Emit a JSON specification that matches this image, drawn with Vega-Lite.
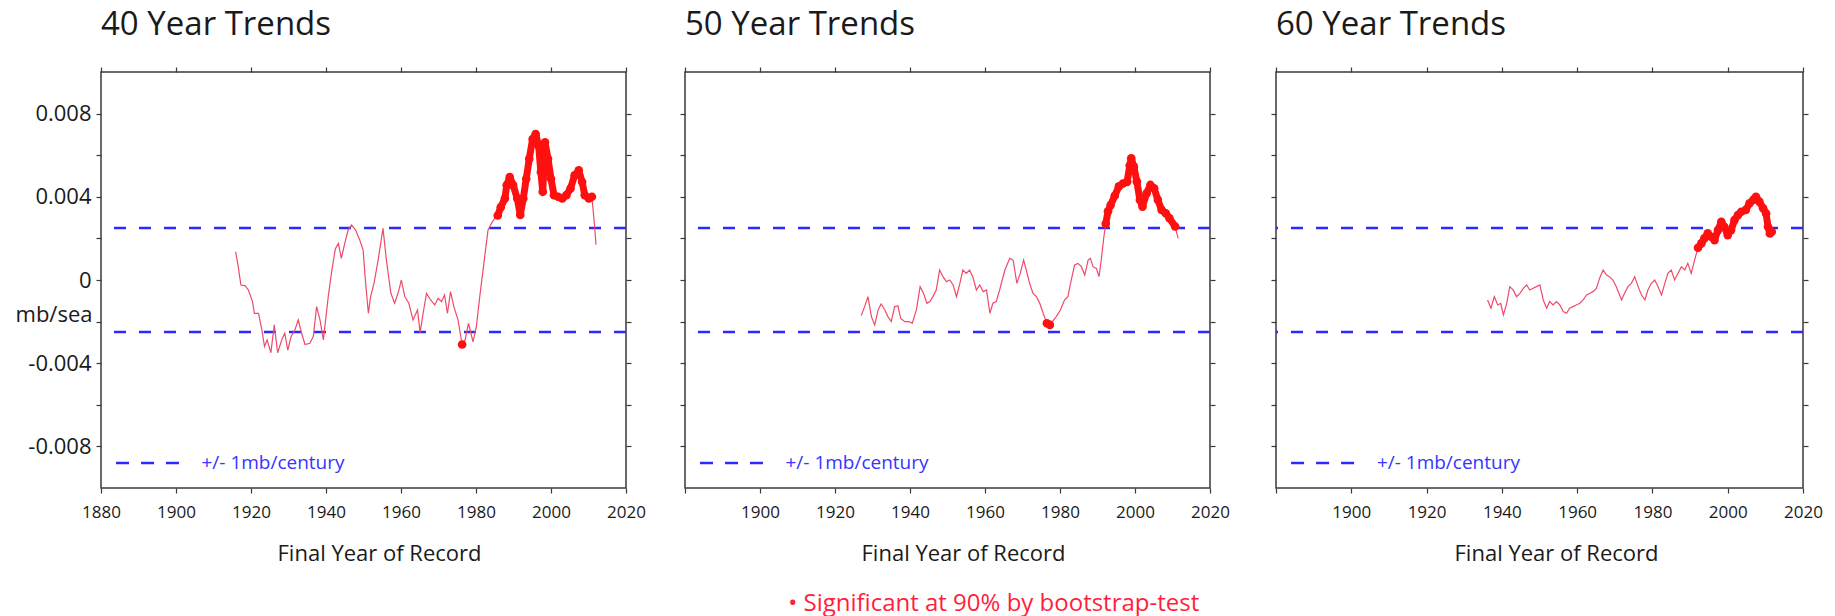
{
  "$schema": "https://vega.github.io/schema/vega-lite/v6.json",
  "background": "white",
  "padding": {"left": 14, "top": 8, "right": 5, "bottom": 4},
  "config": {
    "font": "Open Sans",
    "view": {"stroke": "#3a3a3a", "strokeWidth": 1.5},
    "axis": {"domain": false, "grid": false, "tickColor": "#3a3a3a", "tickSize": 5, "tickWidth": 1.2, "labelColor": "#1a1a1a", "titleColor": "#1a1a1a", "titleFontWeight": "normal", "labelFlush": false},
    "title": {"fontSize": 33, "fontWeight": "normal", "anchor": "start", "frame": "group", "color": "#1a1a1a", "offset": 24}
  },
  "title": {"text": "• Significant at 90% by bootstrap-test", "orient": "bottom", "anchor": "middle", "frame": "bounds", "fontSize": 24, "color": "#ff1f3d", "dx": 75, "offset": 27},
  "datasets": {
    "d40": [
      {"year":1915.9,"trend":0.00136,"sig":"n"},{"year":1916.6,"trend":0.00064,"sig":"n"},{"year":1917.3,"trend":-0.00024,"sig":"n"},{"year":1918.4,"trend":-0.00027,"sig":"n"},{"year":1919.3,"trend":-0.00048,"sig":"n"},{"year":1920.4,"trend":-0.00104,"sig":"n"},{"year":1920.9,"trend":-0.0016,"sig":"n"},{"year":1922.0,"trend":-0.0016,"sig":"n"},{"year":1922.9,"trend":-0.0024,"sig":"n"},{"year":1923.6,"trend":-0.0032,"sig":"n"},{"year":1924.3,"trend":-0.00288,"sig":"n"},{"year":1925.3,"trend":-0.0035,"sig":"n"},{"year":1926.2,"trend":-0.00216,"sig":"n"},{"year":1927.1,"trend":-0.0035,"sig":"n"},{"year":1928.2,"trend":-0.00288,"sig":"n"},{"year":1929.0,"trend":-0.00256,"sig":"n"},{"year":1929.8,"trend":-0.00337,"sig":"n"},{"year":1930.7,"trend":-0.00272,"sig":"n"},{"year":1931.7,"trend":-0.0024,"sig":"n"},{"year":1932.6,"trend":-0.00192,"sig":"n"},{"year":1933.5,"trend":-0.00256,"sig":"n"},{"year":1934.4,"trend":-0.0031,"sig":"n"},{"year":1935.7,"trend":-0.00304,"sig":"n"},{"year":1936.6,"trend":-0.00272,"sig":"n"},{"year":1937.5,"trend":-0.00128,"sig":"n"},{"year":1938.4,"trend":-0.00192,"sig":"n"},{"year":1939.3,"trend":-0.00288,"sig":"n"},{"year":1939.9,"trend":-0.00192,"sig":"n"},{"year":1940.6,"trend":-0.0008,"sig":"n"},{"year":1941.5,"trend":0.0004,"sig":"n"},{"year":1942.5,"trend":0.0015,"sig":"n"},{"year":1943.3,"trend":0.00176,"sig":"n"},{"year":1944.1,"trend":0.00104,"sig":"n"},{"year":1945.0,"trend":0.00176,"sig":"n"},{"year":1945.9,"trend":0.0024,"sig":"n"},{"year":1946.8,"trend":0.00264,"sig":"n"},{"year":1947.9,"trend":0.0024,"sig":"n"},{"year":1949.0,"trend":0.00192,"sig":"n"},{"year":1949.9,"trend":0.00144,"sig":"n"},{"year":1950.5,"trend":0.0,"sig":"n"},{"year":1951.3,"trend":-0.0016,"sig":"n"},{"year":1951.9,"trend":-0.0008,"sig":"n"},{"year":1952.8,"trend":-0.00016,"sig":"n"},{"year":1953.9,"trend":0.00096,"sig":"n"},{"year":1955.2,"trend":0.00248,"sig":"n"},{"year":1956.1,"trend":0.00096,"sig":"n"},{"year":1957.3,"trend":-0.00064,"sig":"n"},{"year":1958.3,"trend":-0.00112,"sig":"n"},{"year":1959.2,"trend":-0.00064,"sig":"n"},{"year":1960.1,"trend":0.0,"sig":"n"},{"year":1961.0,"trend":-0.0008,"sig":"n"},{"year":1962.1,"trend":-0.00112,"sig":"n"},{"year":1963.2,"trend":-0.00192,"sig":"n"},{"year":1964.4,"trend":-0.00144,"sig":"n"},{"year":1965.1,"trend":-0.00253,"sig":"n"},{"year":1965.9,"trend":-0.0016,"sig":"n"},{"year":1966.8,"trend":-0.00064,"sig":"n"},{"year":1967.9,"trend":-0.00096,"sig":"n"},{"year":1969.0,"trend":-0.0012,"sig":"n"},{"year":1969.9,"trend":-0.00088,"sig":"n"},{"year":1970.8,"trend":-0.00104,"sig":"n"},{"year":1971.6,"trend":-0.00072,"sig":"n"},{"year":1972.4,"trend":-0.0016,"sig":"n"},{"year":1973.2,"trend":-0.00056,"sig":"n"},{"year":1974.1,"trend":-0.00128,"sig":"n"},{"year":1975.2,"trend":-0.00192,"sig":"n"},{"year":1976.3,"trend":-0.0031,"sig":"a"},{"year":1977.1,"trend":-0.00288,"sig":"n"},{"year":1978.0,"trend":-0.00208,"sig":"n"},{"year":1979.2,"trend":-0.00297,"sig":"n"},{"year":1980.1,"trend":-0.00224,"sig":"n"},{"year":1981.0,"trend":-0.0008,"sig":"n"},{"year":1982.1,"trend":0.0008,"sig":"n"},{"year":1983.2,"trend":0.0024,"sig":"n"},{"year":1984.1,"trend":0.00272,"sig":"n"},{"year":1985.0,"trend":0.00297,"sig":"n"},{"year":1985.8,"trend":0.0031,"sig":"b"},{"year":1986.6,"trend":0.0035,"sig":"b"},{"year":1987.7,"trend":0.00392,"sig":"b"},{"year":1988.2,"trend":0.00456,"sig":"b"},{"year":1989.0,"trend":0.00495,"sig":"b"},{"year":1989.9,"trend":0.00456,"sig":"b"},{"year":1991.0,"trend":0.00392,"sig":"b"},{"year":1991.8,"trend":0.00313,"sig":"b"},{"year":1992.6,"trend":0.00392,"sig":"b"},{"year":1993.4,"trend":0.00487,"sig":"b"},{"year":1994.2,"trend":0.00583,"sig":"b"},{"year":1995.1,"trend":0.00678,"sig":"b"},{"year":1995.9,"trend":0.00702,"sig":"b"},{"year":1996.7,"trend":0.00646,"sig":"b"},{"year":1997.3,"trend":0.00519,"sig":"b"},{"year":1997.8,"trend":0.00424,"sig":"b"},{"year":1998.4,"trend":0.00662,"sig":"b"},{"year":1999.2,"trend":0.00583,"sig":"b"},{"year":2000.0,"trend":0.00487,"sig":"b"},{"year":2000.8,"trend":0.00408,"sig":"b"},{"year":2001.9,"trend":0.004,"sig":"b"},{"year":2003.0,"trend":0.00392,"sig":"b"},{"year":2004.1,"trend":0.00408,"sig":"b"},{"year":2005.2,"trend":0.0044,"sig":"b"},{"year":2006.3,"trend":0.00503,"sig":"b"},{"year":2007.4,"trend":0.00527,"sig":"b"},{"year":2008.3,"trend":0.00471,"sig":"b"},{"year":2009.0,"trend":0.00408,"sig":"b"},{"year":2010.1,"trend":0.00392,"sig":"b"},{"year":2010.9,"trend":0.004,"sig":"b"},{"year":2011.6,"trend":0.00265,"sig":"n"},{"year":2012.0,"trend":0.0017,"sig":"n"}
    ],
    "d50": [
      {"year":1927.0,"trend":-0.00171,"sig":"n"},{"year":1927.9,"trend":-0.00128,"sig":"n"},{"year":1928.8,"trend":-0.0008,"sig":"n"},{"year":1929.7,"trend":-0.00176,"sig":"n"},{"year":1930.6,"trend":-0.00216,"sig":"n"},{"year":1931.5,"trend":-0.00144,"sig":"n"},{"year":1932.3,"trend":-0.00115,"sig":"n"},{"year":1933.3,"trend":-0.00144,"sig":"n"},{"year":1934.1,"trend":-0.00176,"sig":"n"},{"year":1935.0,"trend":-0.002,"sig":"n"},{"year":1935.9,"trend":-0.00128,"sig":"n"},{"year":1936.8,"trend":-0.00125,"sig":"n"},{"year":1937.5,"trend":-0.00184,"sig":"n"},{"year":1938.6,"trend":-0.002,"sig":"n"},{"year":1939.7,"trend":-0.002,"sig":"n"},{"year":1940.6,"trend":-0.00208,"sig":"n"},{"year":1941.7,"trend":-0.00144,"sig":"n"},{"year":1942.7,"trend":-0.00032,"sig":"n"},{"year":1943.6,"trend":-0.00064,"sig":"n"},{"year":1944.5,"trend":-0.00112,"sig":"n"},{"year":1945.3,"trend":-0.00104,"sig":"n"},{"year":1946.1,"trend":-0.0008,"sig":"n"},{"year":1947.0,"trend":-0.00048,"sig":"n"},{"year":1947.9,"trend":0.00048,"sig":"n"},{"year":1948.8,"trend":0.00016,"sig":"n"},{"year":1949.7,"trend":-0.00008,"sig":"n"},{"year":1950.6,"trend":0.0,"sig":"n"},{"year":1951.5,"trend":-0.00024,"sig":"n"},{"year":1952.4,"trend":-0.0008,"sig":"n"},{"year":1953.3,"trend":-0.00016,"sig":"n"},{"year":1954.1,"trend":0.00048,"sig":"n"},{"year":1955.0,"trend":0.00032,"sig":"n"},{"year":1955.9,"trend":0.00048,"sig":"n"},{"year":1956.8,"trend":0.00012,"sig":"n"},{"year":1957.7,"trend":-0.00048,"sig":"n"},{"year":1958.6,"trend":-0.00024,"sig":"n"},{"year":1959.5,"trend":-0.00056,"sig":"n"},{"year":1960.4,"trend":-0.00048,"sig":"n"},{"year":1961.3,"trend":-0.0016,"sig":"n"},{"year":1962.1,"trend":-0.00112,"sig":"n"},{"year":1963.0,"trend":-0.00104,"sig":"n"},{"year":1963.9,"trend":-0.00048,"sig":"n"},{"year":1965.3,"trend":0.00048,"sig":"n"},{"year":1966.6,"trend":0.00104,"sig":"n"},{"year":1967.5,"trend":0.00096,"sig":"n"},{"year":1968.5,"trend":-0.00016,"sig":"n"},{"year":1969.4,"trend":0.00032,"sig":"n"},{"year":1970.3,"trend":0.00096,"sig":"n"},{"year":1971.0,"trend":0.00048,"sig":"n"},{"year":1971.9,"trend":-0.00016,"sig":"n"},{"year":1972.8,"trend":-0.00064,"sig":"n"},{"year":1973.7,"trend":-0.0008,"sig":"n"},{"year":1974.6,"trend":-0.00112,"sig":"n"},{"year":1975.5,"trend":-0.0016,"sig":"n"},{"year":1976.5,"trend":-0.00208,"sig":"a"},{"year":1977.3,"trend":-0.00216,"sig":"a"},{"year":1979.0,"trend":-0.00176,"sig":"n"},{"year":1980.1,"trend":-0.00144,"sig":"n"},{"year":1981.2,"trend":-0.00096,"sig":"n"},{"year":1982.1,"trend":-0.0008,"sig":"n"},{"year":1983.0,"trend":0.0,"sig":"n"},{"year":1983.9,"trend":0.00072,"sig":"n"},{"year":1984.8,"trend":0.0008,"sig":"n"},{"year":1985.7,"trend":0.00064,"sig":"n"},{"year":1986.6,"trend":0.00024,"sig":"n"},{"year":1987.5,"trend":0.00096,"sig":"n"},{"year":1988.1,"trend":0.00104,"sig":"n"},{"year":1988.8,"trend":0.00064,"sig":"n"},{"year":1989.7,"trend":0.00056,"sig":"n"},{"year":1990.4,"trend":0.00016,"sig":"n"},{"year":1991.0,"trend":0.00096,"sig":"n"},{"year":1991.7,"trend":0.00208,"sig":"n"},{"year":1992.2,"trend":0.0027,"sig":"b"},{"year":1992.8,"trend":0.0033,"sig":"b"},{"year":1993.5,"trend":0.0036,"sig":"b"},{"year":1994.6,"trend":0.00405,"sig":"b"},{"year":1995.7,"trend":0.0045,"sig":"b"},{"year":1996.8,"trend":0.00464,"sig":"b"},{"year":1997.9,"trend":0.00472,"sig":"b"},{"year":1998.6,"trend":0.0055,"sig":"b"},{"year":1999.0,"trend":0.00585,"sig":"b"},{"year":1999.7,"trend":0.00545,"sig":"b"},{"year":2000.5,"trend":0.00473,"sig":"b"},{"year":2001.3,"trend":0.00385,"sig":"b"},{"year":2002.0,"trend":0.00353,"sig":"b"},{"year":2003.1,"trend":0.00417,"sig":"b"},{"year":2004.1,"trend":0.00457,"sig":"b"},{"year":2005.1,"trend":0.00441,"sig":"b"},{"year":2006.1,"trend":0.00385,"sig":"b"},{"year":2007.1,"trend":0.00337,"sig":"b"},{"year":2008.2,"trend":0.00321,"sig":"b"},{"year":2009.2,"trend":0.00297,"sig":"b"},{"year":2010.7,"trend":0.00257,"sig":"b"},{"year":2011.5,"trend":0.002,"sig":"n"}
    ],
    "d60": [
      {"year":1936.2,"trend":-0.00096,"sig":"n"},{"year":1937.1,"trend":-0.00136,"sig":"n"},{"year":1938.0,"trend":-0.0008,"sig":"n"},{"year":1938.9,"trend":-0.0012,"sig":"n"},{"year":1939.7,"trend":-0.00112,"sig":"n"},{"year":1940.4,"trend":-0.00168,"sig":"n"},{"year":1941.3,"trend":-0.00112,"sig":"n"},{"year":1942.1,"trend":-0.00032,"sig":"n"},{"year":1943.0,"trend":-0.00048,"sig":"n"},{"year":1943.9,"trend":-0.0008,"sig":"n"},{"year":1944.8,"trend":-0.00064,"sig":"n"},{"year":1945.7,"trend":-0.0004,"sig":"n"},{"year":1946.6,"trend":-0.00024,"sig":"n"},{"year":1947.4,"trend":-0.00048,"sig":"n"},{"year":1948.3,"trend":-0.0004,"sig":"n"},{"year":1949.2,"trend":-0.00032,"sig":"n"},{"year":1950.1,"trend":-0.00024,"sig":"n"},{"year":1951.0,"trend":-0.00096,"sig":"n"},{"year":1951.9,"trend":-0.00136,"sig":"n"},{"year":1952.7,"trend":-0.00104,"sig":"n"},{"year":1953.6,"trend":-0.0012,"sig":"n"},{"year":1954.5,"trend":-0.00104,"sig":"n"},{"year":1955.4,"trend":-0.0012,"sig":"n"},{"year":1956.3,"trend":-0.00152,"sig":"n"},{"year":1957.2,"trend":-0.0016,"sig":"n"},{"year":1958.0,"trend":-0.00136,"sig":"n"},{"year":1958.9,"trend":-0.00128,"sig":"n"},{"year":1959.8,"trend":-0.0012,"sig":"n"},{"year":1960.7,"trend":-0.00112,"sig":"n"},{"year":1961.6,"trend":-0.00096,"sig":"n"},{"year":1962.5,"trend":-0.00072,"sig":"n"},{"year":1963.4,"trend":-0.00064,"sig":"n"},{"year":1964.2,"trend":-0.00056,"sig":"n"},{"year":1965.1,"trend":-0.0004,"sig":"n"},{"year":1966.0,"trend":0.0001,"sig":"n"},{"year":1966.9,"trend":0.00048,"sig":"n"},{"year":1967.8,"trend":0.00024,"sig":"n"},{"year":1968.6,"trend":0.00016,"sig":"n"},{"year":1969.5,"trend":0.0,"sig":"n"},{"year":1970.4,"trend":-0.00032,"sig":"n"},{"year":1971.8,"trend":-0.00096,"sig":"n"},{"year":1972.6,"trend":-0.00064,"sig":"n"},{"year":1973.5,"trend":-0.00032,"sig":"n"},{"year":1974.4,"trend":-0.00016,"sig":"n"},{"year":1975.3,"trend":0.00016,"sig":"n"},{"year":1976.2,"trend":-0.00032,"sig":"n"},{"year":1977.1,"trend":-0.00072,"sig":"n"},{"year":1978.0,"trend":-0.00096,"sig":"n"},{"year":1978.8,"trend":-0.00048,"sig":"n"},{"year":1979.7,"trend":-0.00016,"sig":"n"},{"year":1980.6,"trend":0.0,"sig":"n"},{"year":1981.5,"trend":-0.00032,"sig":"n"},{"year":1982.4,"trend":-0.00072,"sig":"n"},{"year":1983.3,"trend":-0.00016,"sig":"n"},{"year":1984.1,"trend":0.00032,"sig":"n"},{"year":1985.0,"trend":0.00048,"sig":"n"},{"year":1985.9,"trend":0.0,"sig":"n"},{"year":1986.8,"trend":0.00032,"sig":"n"},{"year":1987.7,"trend":0.00064,"sig":"n"},{"year":1988.6,"trend":0.00048,"sig":"n"},{"year":1989.4,"trend":0.0008,"sig":"n"},{"year":1990.3,"trend":0.00032,"sig":"n"},{"year":1991.2,"trend":0.00096,"sig":"n"},{"year":1992.1,"trend":0.00155,"sig":"b"},{"year":1993.0,"trend":0.00176,"sig":"b"},{"year":1993.8,"trend":0.002,"sig":"b"},{"year":1994.7,"trend":0.00224,"sig":"b"},{"year":1995.6,"trend":0.00208,"sig":"b"},{"year":1996.5,"trend":0.00192,"sig":"b"},{"year":1997.4,"trend":0.0024,"sig":"b"},{"year":1998.3,"trend":0.0028,"sig":"b"},{"year":1999.1,"trend":0.00256,"sig":"b"},{"year":2000.0,"trend":0.00216,"sig":"b"},{"year":2000.9,"trend":0.0024,"sig":"b"},{"year":2001.8,"trend":0.00288,"sig":"b"},{"year":2002.7,"trend":0.00312,"sig":"b"},{"year":2003.6,"trend":0.00328,"sig":"b"},{"year":2004.8,"trend":0.00337,"sig":"b"},{"year":2005.8,"trend":0.00369,"sig":"b"},{"year":2006.8,"trend":0.00385,"sig":"b"},{"year":2007.5,"trend":0.004,"sig":"b"},{"year":2008.4,"trend":0.00377,"sig":"b"},{"year":2009.4,"trend":0.00345,"sig":"b"},{"year":2010.2,"trend":0.0032,"sig":"b"},{"year":2010.7,"trend":0.00256,"sig":"b"},{"year":2011.2,"trend":0.00224,"sig":"b"},{"year":2011.7,"trend":0.00232,"sig":"b"}
    ]
  },
  "bounds": "flush",
  "spacing": 59,
  "hconcat": [
    {
      "title": "40 Year Trends",
      "width": 525, "height": 416,
      "data": {"name": "d40"},
      "resolve": {"axis": {"x": "independent", "y": "independent"}},
      "layer": [
        {"data": {"values": [{"thr": 0.0025}, {"thr": -0.0025}]}, "mark": {"type": "rule", "color": "#2a2aff", "strokeWidth": 2.5, "strokeDash": [12, 13]}, "encoding": {"y": {"field": "thr", "type": "quantitative", "scale": {"domain": [-0.01, 0.01], "nice": false}, "axis": null}}},
        {"mark": {"type": "line", "color": "#f04a6a", "strokeWidth": 1.2}, "encoding": {
          "x": {"field": "year", "type": "quantitative", "scale": {"domain": [1880, 2020], "nice": false, "zero": false}, "axis": {"orient": "bottom", "values": [1880,1900,1920,1940,1960,1980,2000,2020], "format": "d", "labelFontSize": 17, "labelPadding": 11, "title": "Final Year of Record", "titleFontSize": 22, "titlePadding": 23, "titleX": 278}},
          "y": {"field": "trend", "type": "quantitative", "scale": {"domain": [-0.01, 0.01], "nice": false}, "axis": {"orient": "left", "values": [-0.008,-0.006,-0.004,-0.002,0,0.002,0.004,0.006,0.008], "labelExpr": "abs(round(datum.value*1000)) % 4 == 0 ? (datum.value < 0 ? '-' : '') + format(abs(datum.value), '.3~f') : ''", "labelFontSize": 22, "labelPadding": 5, "title": "mb/sea", "titleFontSize": 22, "titleAngle": 0, "titleAlign": "right", "titleBaseline": "middle", "titleX": -9, "titleY": 242}}}},
        {"transform": [{"filter": "datum.sig != 'n'"}], "mark": {"type": "line", "color": "#ff1010", "strokeWidth": 7, "strokeCap": "round", "strokeJoin": "round"}, "encoding": {"x": {"field": "year", "type": "quantitative", "axis": null}, "y": {"field": "trend", "type": "quantitative", "axis": null}, "detail": {"field": "sig"}}},
        {"transform": [{"filter": "datum.sig != 'n'"}], "mark": {"type": "circle", "color": "#ff1010", "size": 75, "opacity": 1}, "encoding": {
          "x": {"field": "year", "type": "quantitative", "axis": {"orient": "top", "labels": false, "title": null, "values": [1880,1900,1920,1940,1960,1980,2000,2020]}},
          "y": {"field": "trend", "type": "quantitative", "axis": {"orient": "right", "labels": false, "title": null, "values": [-0.008,-0.006,-0.004,-0.002,0,0.002,0.004,0.006,0.008]}}}},
        {"data": {"values": [{}]}, "mark": {"type": "rule", "color": "#2a2aff", "strokeWidth": 2.5, "strokeDash": [13, 12]}, "encoding": {"x": {"datum": 1884, "type": "quantitative", "axis": null}, "x2": {"datum": 1902}, "y": {"datum": -0.0088, "type": "quantitative", "axis": null}}},
        {"data": {"values": [{}]}, "mark": {"type": "text", "text": "+/- 1mb/century", "align": "left", "baseline": "middle", "fontSize": 19, "color": "#3535ff"}, "encoding": {"x": {"datum": 1906.8, "type": "quantitative", "axis": null}, "y": {"datum": -0.0088, "type": "quantitative", "axis": null}}}
      ]
    },
    {
      "bounds": "flush",
      "spacing": 66,
      "hconcat": [
        {
          "title": "50 Year Trends",
          "width": 525, "height": 416,
          "data": {"name": "d50"},
          "resolve": {"axis": {"x": "independent", "y": "independent"}},
          "layer": [
            {"data": {"values": [{"thr": 0.0025}, {"thr": -0.0025}]}, "mark": {"type": "rule", "color": "#2a2aff", "strokeWidth": 2.5, "strokeDash": [12, 13]}, "encoding": {"y": {"field": "thr", "type": "quantitative", "scale": {"domain": [-0.01, 0.01], "nice": false}, "axis": null}}},
            {"mark": {"type": "line", "color": "#f04a6a", "strokeWidth": 1.2}, "encoding": {
              "x": {"field": "year", "type": "quantitative", "scale": {"domain": [1880, 2020], "nice": false, "zero": false}, "axis": {"orient": "bottom", "values": [1880,1900,1920,1940,1960,1980,2000,2020], "format": "d", "labelExpr": "datum.value == 1880 ? '' : datum.label", "labelFontSize": 17, "labelPadding": 11, "title": "Final Year of Record", "titleFontSize": 22, "titlePadding": 23, "titleX": 278}},
              "y": {"field": "trend", "type": "quantitative", "scale": {"domain": [-0.01, 0.01], "nice": false}, "axis": {"orient": "left", "values": [-0.008,-0.006,-0.004,-0.002,0,0.002,0.004,0.006,0.008], "labels": false, "title": null}}}},
            {"transform": [{"filter": "datum.sig != 'n'"}], "mark": {"type": "line", "color": "#ff1010", "strokeWidth": 7, "strokeCap": "round", "strokeJoin": "round"}, "encoding": {"x": {"field": "year", "type": "quantitative", "axis": null}, "y": {"field": "trend", "type": "quantitative", "axis": null}, "detail": {"field": "sig"}}},
            {"transform": [{"filter": "datum.sig != 'n'"}], "mark": {"type": "circle", "color": "#ff1010", "size": 75, "opacity": 1}, "encoding": {
              "x": {"field": "year", "type": "quantitative", "axis": {"orient": "top", "labels": false, "title": null, "values": [1880,1900,1920,1940,1960,1980,2000,2020]}},
              "y": {"field": "trend", "type": "quantitative", "axis": {"orient": "right", "labels": false, "title": null, "values": [-0.008,-0.006,-0.004,-0.002,0,0.002,0.004,0.006,0.008]}}}},
            {"data": {"values": [{}]}, "mark": {"type": "rule", "color": "#2a2aff", "strokeWidth": 2.5, "strokeDash": [13, 12]}, "encoding": {"x": {"datum": 1884, "type": "quantitative", "axis": null}, "x2": {"datum": 1902}, "y": {"datum": -0.0088, "type": "quantitative", "axis": null}}},
            {"data": {"values": [{}]}, "mark": {"type": "text", "text": "+/- 1mb/century", "align": "left", "baseline": "middle", "fontSize": 19, "color": "#3535ff"}, "encoding": {"x": {"datum": 1906.8, "type": "quantitative", "axis": null}, "y": {"datum": -0.0088, "type": "quantitative", "axis": null}}}
          ]
        },
        {
          "title": "60 Year Trends",
          "width": 527, "height": 416,
          "data": {"name": "d60"},
          "resolve": {"axis": {"x": "independent", "y": "independent"}},
          "layer": [
            {"data": {"values": [{"thr": 0.0025}, {"thr": -0.0025}]}, "mark": {"type": "rule", "color": "#2a2aff", "strokeWidth": 2.5, "strokeDash": [12, 13]}, "encoding": {"y": {"field": "thr", "type": "quantitative", "scale": {"domain": [-0.01, 0.01], "nice": false}, "axis": null}}},
            {"mark": {"type": "line", "color": "#f04a6a", "strokeWidth": 1.2}, "encoding": {
              "x": {"field": "year", "type": "quantitative", "scale": {"domain": [1880, 2020], "nice": false, "zero": false}, "axis": {"orient": "bottom", "values": [1880,1900,1920,1940,1960,1980,2000,2020], "format": "d", "labelExpr": "datum.value == 1880 ? '' : datum.label", "labelFontSize": 17, "labelPadding": 11, "title": "Final Year of Record", "titleFontSize": 22, "titlePadding": 23, "titleX": 280}},
              "y": {"field": "trend", "type": "quantitative", "scale": {"domain": [-0.01, 0.01], "nice": false}, "axis": {"orient": "left", "values": [-0.008,-0.006,-0.004,-0.002,0,0.002,0.004,0.006,0.008], "labels": false, "title": null}}}},
            {"transform": [{"filter": "datum.sig != 'n'"}], "mark": {"type": "line", "color": "#ff1010", "strokeWidth": 7, "strokeCap": "round", "strokeJoin": "round"}, "encoding": {"x": {"field": "year", "type": "quantitative", "axis": null}, "y": {"field": "trend", "type": "quantitative", "axis": null}, "detail": {"field": "sig"}}},
            {"transform": [{"filter": "datum.sig != 'n'"}], "mark": {"type": "circle", "color": "#ff1010", "size": 75, "opacity": 1}, "encoding": {
              "x": {"field": "year", "type": "quantitative", "axis": {"orient": "top", "labels": false, "title": null, "values": [1880,1900,1920,1940,1960,1980,2000,2020]}},
              "y": {"field": "trend", "type": "quantitative", "axis": {"orient": "right", "labels": false, "title": null, "values": [-0.008,-0.006,-0.004,-0.002,0,0.002,0.004,0.006,0.008]}}}},
            {"data": {"values": [{}]}, "mark": {"type": "rule", "color": "#2a2aff", "strokeWidth": 2.5, "strokeDash": [13, 12]}, "encoding": {"x": {"datum": 1884, "type": "quantitative", "axis": null}, "x2": {"datum": 1902}, "y": {"datum": -0.0088, "type": "quantitative", "axis": null}}},
            {"data": {"values": [{}]}, "mark": {"type": "text", "text": "+/- 1mb/century", "align": "left", "baseline": "middle", "fontSize": 19, "color": "#3535ff"}, "encoding": {"x": {"datum": 1906.8, "type": "quantitative", "axis": null}, "y": {"datum": -0.0088, "type": "quantitative", "axis": null}}}
          ]
        }
      ]
    }
  ]
}
